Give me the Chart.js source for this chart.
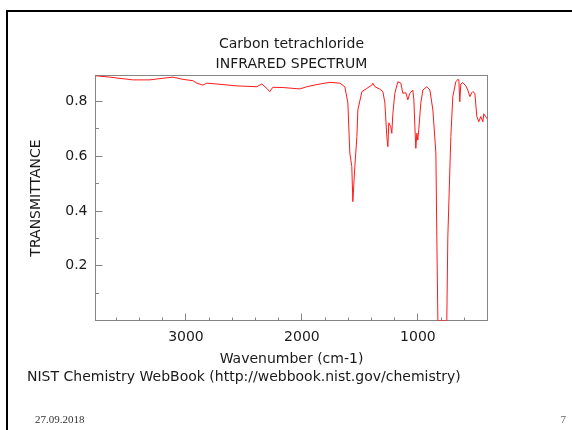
<!DOCTYPE html>
<html>
<head>
<meta charset="utf-8">
<script src="https://cdn.jsdelivr.net/npm/chart.js@4.4.1/dist/chart.umd.min.js"></script>
<style>
  body { margin: 0; background: #fff; }
  #slide { position: relative; width: 572px; height: 430px; overflow: hidden; }
  #myChart { position: absolute; left: 0; top: 0; }
  .bar-top { position: absolute; left: 6px; top: 10px; width: 566px; height: 2px; background: #000; }
  .bar-left { position: absolute; left: 6px; top: 10px; width: 2px; height: 420px; background: #000; }
  .credit { position: absolute; left: 27px; top: 369px; font: 14px/14px 'DejaVu Sans'; color: #1a1a1a; white-space: nowrap; }
  .foot { position: absolute; top: 414px; font: 11px/11px 'Liberation Serif'; color: #333; }
</style>
</head>
<body>
<div id="slide">
  <canvas id="myChart" width="572" height="430"></canvas>
  <div class="bar-top"></div>
  <div class="bar-left"></div>
  <div class="credit">NIST Chemistry WebBook (http://webbook.nist.gov/chemistry)</div>
  <div class="foot" style="left:35px">27.09.2018</div>
  <div class="foot" style="right:6px;color:#666">7</div>
</div>
<script>
// spectrum
const wavenumber = [3780, 3656, 3458, 3311, 3199, 3113, 3027, 2940, 2906, 2854, 2820, 2733, 2561, 2389, 2346, 2303,
  2277, 2251, 2164, 2018, 1958, 1871, 1759, 1673, 1630, 1604, 1587, 1570, 1561, 1544, 1526, 1518, 1483, 1440,
  1397, 1389, 1371, 1328, 1302, 1285, 1268, 1259, 1251, 1234, 1225, 1216, 1199, 1173, 1147, 1130, 1104, 1087,
  1070, 1044, 1035, 1026, 1018, 1009, 1001, 992, 975, 957, 923, 897, 871, 845, 837, 828, 751, 742, 716, 699,
  673, 656, 647, 639, 630, 613, 587, 570, 552, 535, 527, 509, 492, 475, 458, 440, 432, 406, 400];
const transmittance = [0.894, 0.889, 0.879, 0.879, 0.885, 0.889, 0.881, 0.876, 0.867, 0.860, 0.867, 0.864, 0.857,
  0.854, 0.864, 0.848, 0.836, 0.852, 0.851, 0.846, 0.854, 0.862, 0.870, 0.867, 0.854, 0.795, 0.612, 0.562, 0.434,
  0.562, 0.672, 0.769, 0.836, 0.848, 0.860, 0.867, 0.854, 0.845, 0.836, 0.795, 0.672, 0.635, 0.722, 0.708, 0.684,
  0.755, 0.830, 0.872, 0.867, 0.830, 0.832, 0.806, 0.830, 0.842, 0.806, 0.708, 0.629, 0.684, 0.659, 0.700, 0.795,
  0.842, 0.854, 0.842, 0.769, 0.612, 0.306, 0, 0, 0.306, 0.672, 0.818, 0.872, 0.881, 0.879, 0.799, 0.864, 0.869,
  0.857, 0.842, 0.818, 0.832, 0.836, 0.830, 0.745, 0.726, 0.745, 0.726, 0.755, 0.739, 0.735];

const titleLines = ['Carbon tetrachloride', 'INFRARED SPECTRUM'];
const xMajor = [1000, 2000, 3000];
const xMinor = [600, 800, 1200, 1400, 1600, 1800, 2200, 2400, 2600, 2800, 3200, 3400, 3600];
const yMajor = [0.2, 0.4, 0.6, 0.8];
const yMinor = [0.1, 0.3, 0.5, 0.7];

const points = wavenumber.map((w, i) => ({ x: w, y: transmittance[i] }));

// frame box + inward tick marks like the NIST plot
const frameTicks = {
  id: 'frameTicks',
  beforeDatasetsDraw(chart) {
    const { ctx, chartArea: a, scales: { x, y } } = chart;
    ctx.save();
    ctx.strokeStyle = '#858585';
    ctx.lineWidth = 1;
    ctx.strokeRect(a.left, a.top, a.right - a.left, a.bottom - a.top);
    ctx.beginPath();
    const xt = (v, len) => {
      const px = Math.floor(x.getPixelForValue(v)) + 0.5;
      ctx.moveTo(px, a.bottom); ctx.lineTo(px, a.bottom - len);
    };
    const yt = (v, len) => {
      const py = Math.floor(y.getPixelForValue(v)) + 0.5;
      ctx.moveTo(a.left, py); ctx.lineTo(a.left + len, py);
    };
    xMajor.forEach(v => xt(v, 7));
    xMinor.forEach(v => xt(v, 3));
    yMajor.forEach(v => yt(v, 7));
    yMinor.forEach(v => yt(v, 3.5));
    ctx.stroke();
    ctx.restore();
  }
};

Chart.defaults.font.family = "'DejaVu Sans'";
Chart.defaults.font.size = 14;
Chart.defaults.color = '#1a1a1a';

const ctx = document.getElementById('myChart');
new Chart(ctx, {
  type: 'line',
  data: {
    datasets: [{
      data: points,
      borderColor: '#ff1a1a',
      borderWidth: 1,
      pointRadius: 0,
      tension: 0
    }]
  },
  options: {
    responsive: false,
    devicePixelRatio: 1,
    animation: false,
    layout: { padding: { left: 0, top: 10, right: 84.5, bottom: 0 } },
    plugins: {
      legend: { display: false },
      tooltip: { enabled: false },
      title: {
        display: true,
        fullSize: false,
        text: titleLines,
        font: { size: 14, weight: 'normal', lineHeight: 1.45 },
        padding: { top: 23.75, bottom: 1.15 }
      }
    },
    scales: {
      x: {
        type: 'linear',
        reverse: true,
        min: 400,
        max: 3780,
        afterBuildTicks: s => { s.ticks = xMajor.map(v => ({ value: v })); },
        afterFit: s => { s.height = 109.5; },
        ticks: { padding: 8.5, maxRotation: 0, autoSkip: false, callback: v => String(v) },
        grid: { display: false, drawTicks: false },
        border: { display: false },
        title: { display: true, text: 'Wavenumber (cm-1)', padding: { top: 0, bottom: 62.5 } }
      },
      y: {
        min: 0,
        max: 0.895,
        afterBuildTicks: s => { s.ticks = yMajor.map(v => ({ value: v })); },
        afterFit: s => { s.width = 95.5; },
        ticks: { padding: 8, callback: v => v.toFixed(1) },
        grid: { display: false, drawTicks: false },
        border: { display: false },
        title: { display: true, text: 'TRANSMITTANCE', padding: { top: 27.6, bottom: 0 } }
      }
    }
  },
  plugins: [frameTicks]
});
</script>
</body>
</html>
